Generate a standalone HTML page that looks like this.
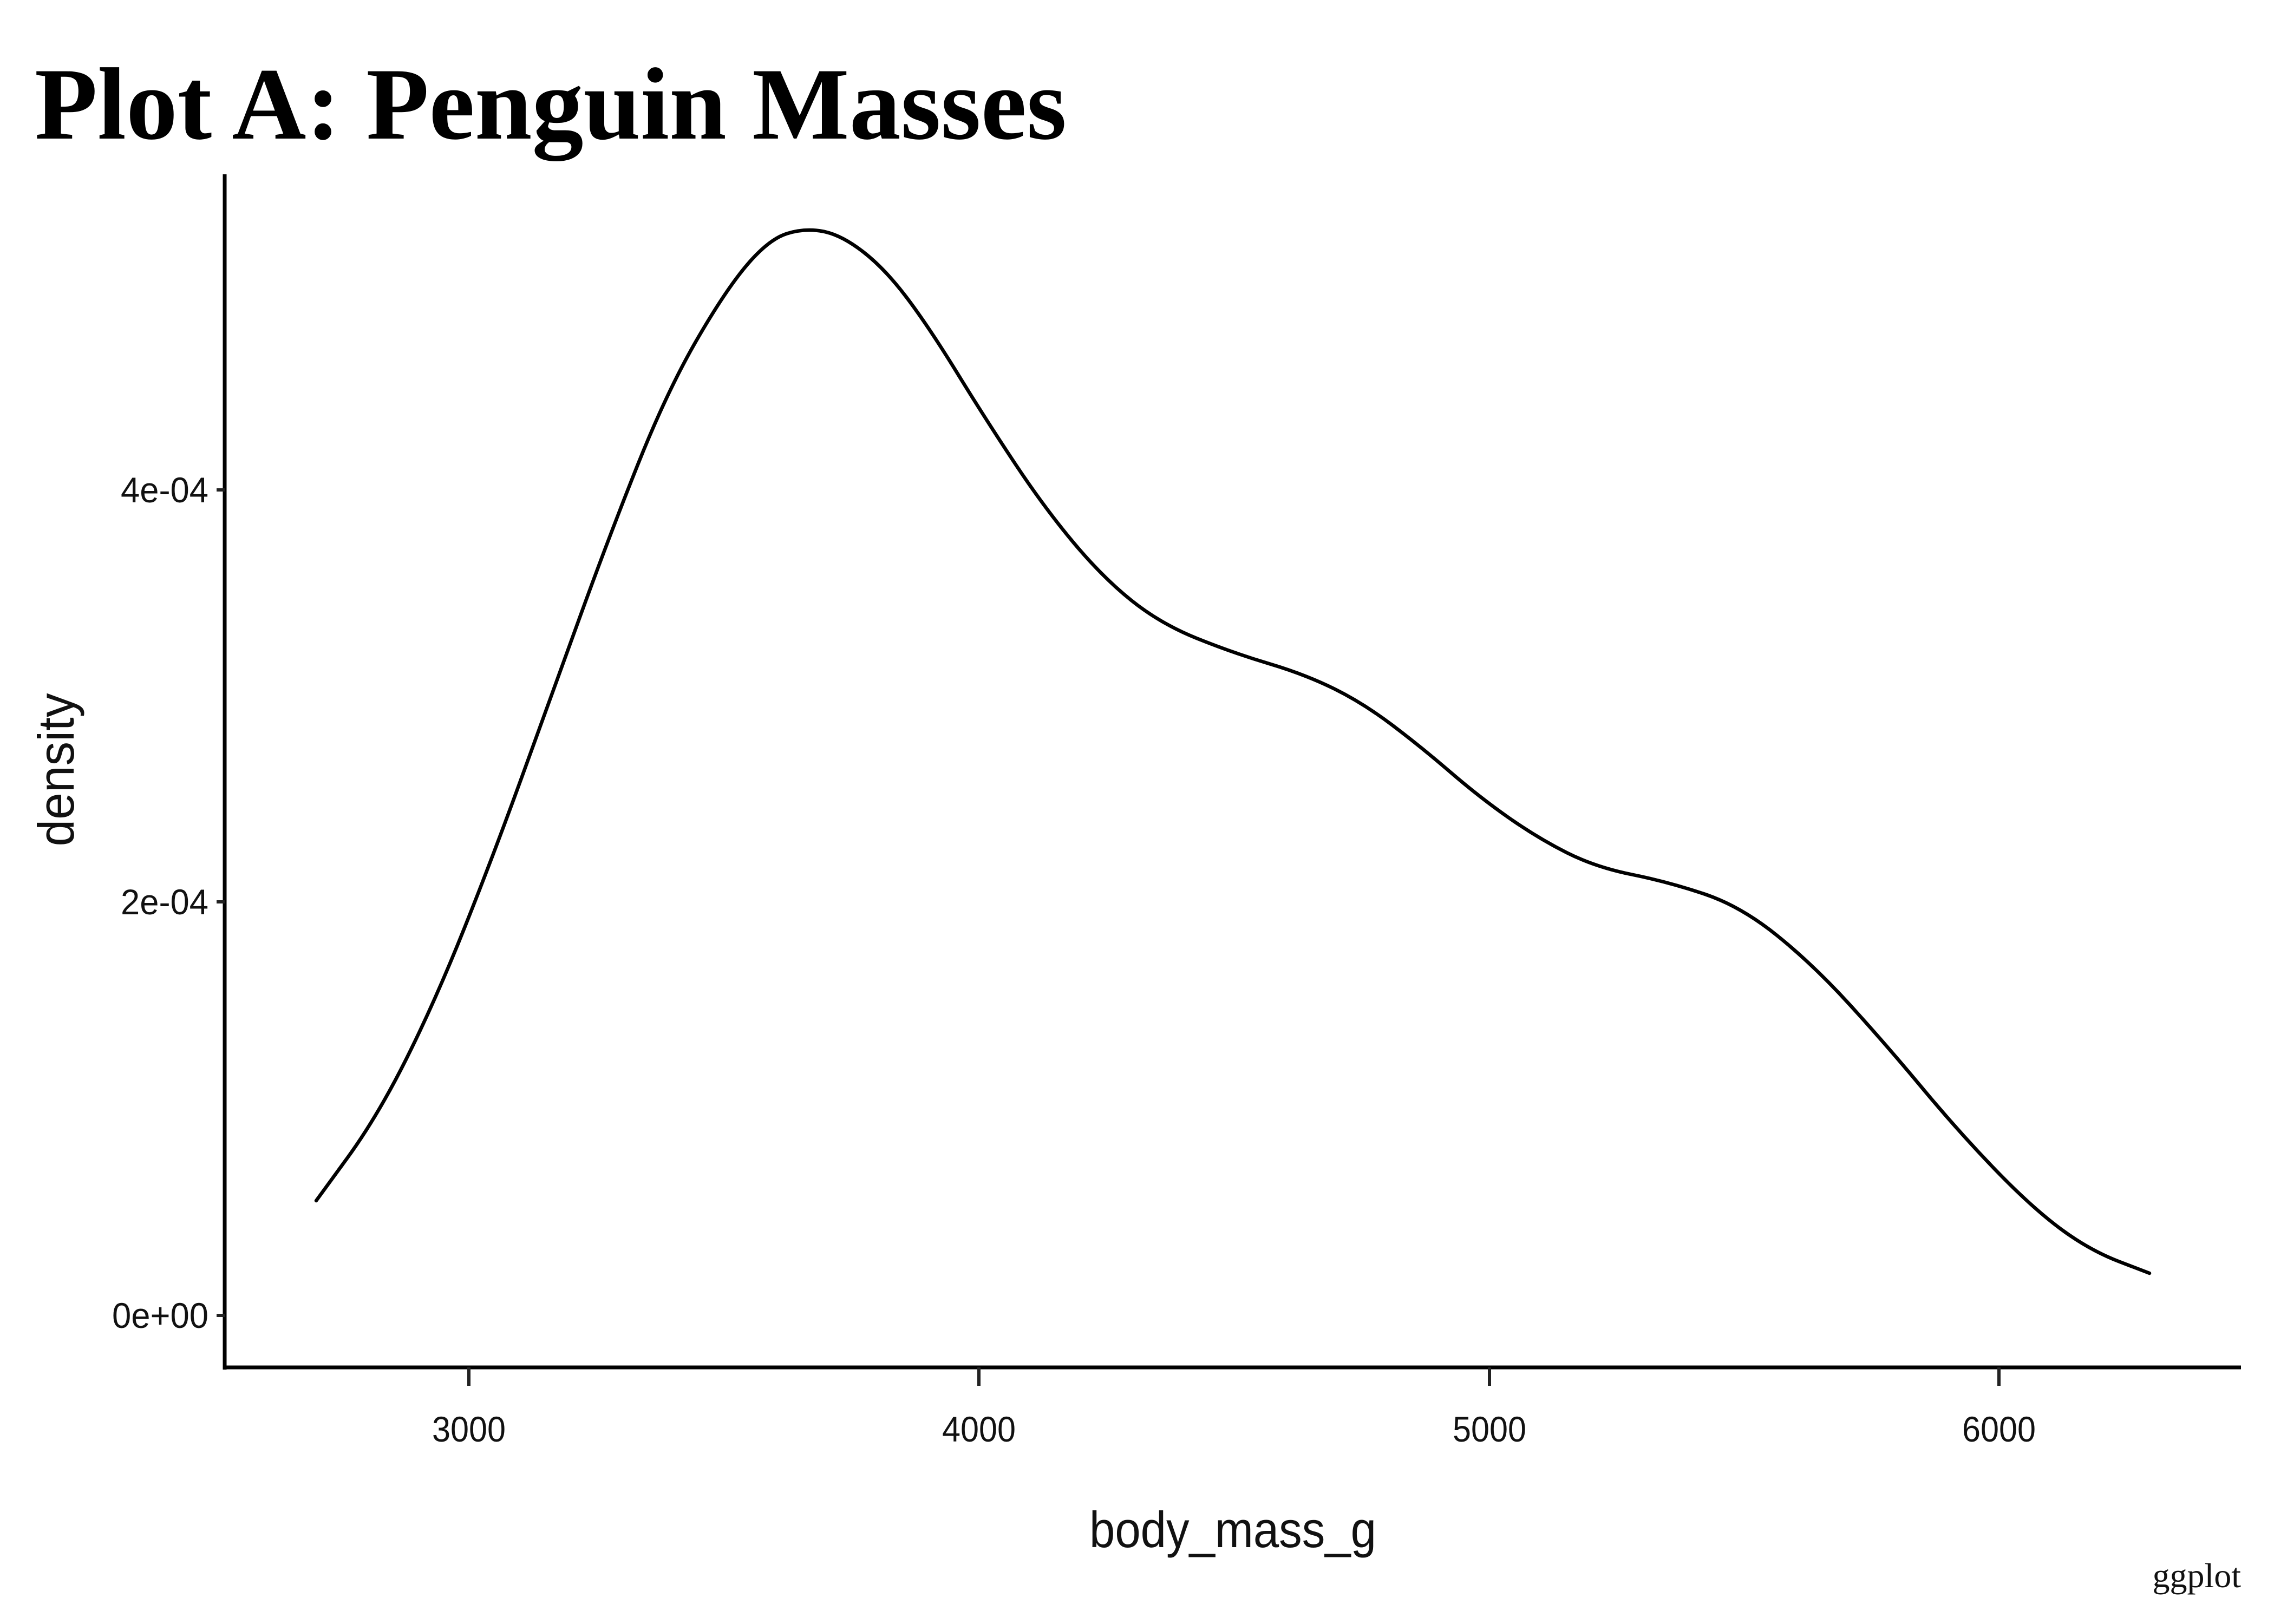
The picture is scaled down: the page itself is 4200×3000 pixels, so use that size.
<!DOCTYPE html>
<html><head><meta charset="utf-8"><style>
html,body{margin:0;padding:0;background:#fff;}
svg{display:block;}
.t{font-family:"Liberation Sans Narrow","Liberation Sans",sans-serif;fill:#111;}
</style></head><body>
<svg width="4200" height="3000" viewBox="0 0 4200 3000" xmlns="http://www.w3.org/2000/svg">
<rect width="4200" height="3000" fill="#fff"/>
<text x="64" y="256" font-family="Liberation Serif, serif" font-weight="bold" font-size="190" textLength="1906" lengthAdjust="spacingAndGlyphs" fill="#000">Plot A: Penguin Masses</text>
<line x1="415" y1="322" x2="415" y2="2530" stroke="#000" stroke-width="7"/>
<line x1="412" y1="2526" x2="4139" y2="2526" stroke="#000" stroke-width="7"/>
<g stroke="#222" stroke-width="6">
<line x1="400" y1="2430" x2="415" y2="2430"/>
<line x1="400" y1="1666" x2="415" y2="1666"/>
<line x1="400" y1="905" x2="415" y2="905"/>
<line x1="866" y1="2526" x2="866" y2="2560"/>
<line x1="1808" y1="2526" x2="1808" y2="2560"/>
<line x1="2751" y1="2526" x2="2751" y2="2560"/>
<line x1="3692" y1="2526" x2="3692" y2="2560"/>
</g>
<g class="t" font-size="66" text-anchor="end">
<text x="385" y="2453" textLength="178" lengthAdjust="spacingAndGlyphs">0e+00</text>
<text x="385" y="1689" textLength="162" lengthAdjust="spacingAndGlyphs">2e-04</text>
<text x="385" y="928" textLength="162" lengthAdjust="spacingAndGlyphs">4e-04</text>
</g>
<g class="t" font-size="66" text-anchor="middle">
<text x="866" y="2663" textLength="136" lengthAdjust="spacingAndGlyphs">3000</text>
<text x="1808" y="2663" textLength="136" lengthAdjust="spacingAndGlyphs">4000</text>
<text x="2751" y="2663" textLength="136" lengthAdjust="spacingAndGlyphs">5000</text>
<text x="3692" y="2663" textLength="136" lengthAdjust="spacingAndGlyphs">6000</text>
</g>
<text class="t" x="2277" y="2858" font-size="94" text-anchor="middle" textLength="530" lengthAdjust="spacingAndGlyphs">body_mass_g</text>
<text class="t" transform="translate(136,1422) rotate(-90)" font-size="94" text-anchor="middle" textLength="283" lengthAdjust="spacingAndGlyphs">density</text>
<text x="4139" y="2932" font-family="Liberation Serif, serif" font-size="64" text-anchor="end" fill="#111">ggplot</text>
<path fill="none" stroke="#000" stroke-width="6.5" stroke-linejoin="round" stroke-linecap="round" d="M584,2218 L640.5,2140.5 Q697,2063 750.5,1956 Q804,1849 857.5,1715 Q911,1581 964.5,1433.5 Q1018,1286 1071.5,1138.5 Q1125,991 1178.5,857 Q1232,723 1286,629.5 Q1340,536 1380,489 Q1420,442 1453.5,431.5 Q1487,421 1520.5,427.5 Q1554,434 1594,465 Q1634,496 1674.5,549.5 Q1715,603 1768.5,690 Q1822,777 1875.5,857.5 Q1929,938 1982.5,1002 Q2036,1066 2089.5,1109 Q2143,1152 2210,1179 Q2277,1206 2344,1226 Q2411,1246 2464.5,1272.5 Q2518,1299 2571.5,1339.5 Q2625,1380 2679,1426.5 Q2733,1473 2786.5,1510.5 Q2840,1548 2893.5,1575 Q2947,1602 3014,1615.5 Q3081,1629 3148,1651.5 Q3215,1674 3282,1728 Q3349,1782 3416,1855.5 Q3483,1929 3550,2009.5 Q3617,2090 3684,2159.5 Q3751,2229 3804.5,2269 Q3858,2309 3914,2330.5 L3970,2352"/>
</svg>
</body></html>
